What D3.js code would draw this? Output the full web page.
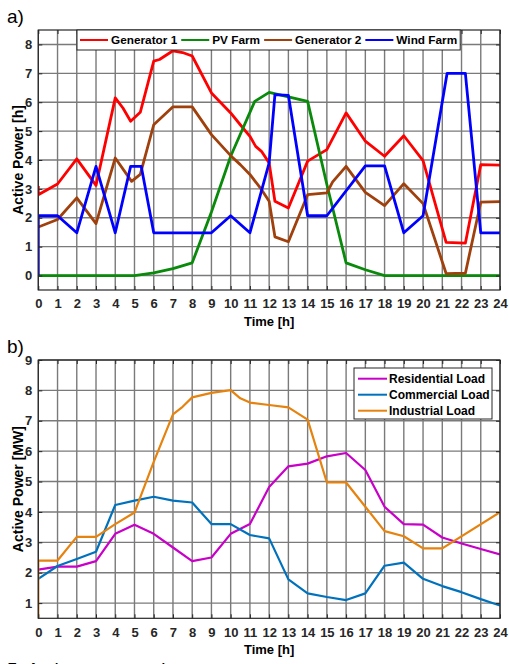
<!DOCTYPE html>
<html>
<head>
<meta charset="utf-8">
<script src="https://cdn.jsdelivr.net/npm/d3@7"></script>
<style>
  body { margin: 0; background: #fff; }
  text { font-family: Arial, "Liberation Sans", sans-serif; }
</style>
</head>
<body>
<div id="chart"></div>
<script>
// ---------------- data ----------------
var hourTicks = d3.range(0, 25);
var genTicks = [0, 1, 2, 3, 4, 5, 6, 7, 8];
var loadTicks = [1, 2, 3, 4, 5, 6, 7, 8, 9];

// a) generation
var gen1T = [0, 0, 1, 2, 3, 4, 4.4, 4.8, 5.3, 6, 6.3, 7, 7.5, 8, 9, 10, 10.5, 11, 11.3, 11.6, 12, 12.3, 13, 14, 15, 16, 17, 18, 19, 20, 21.2, 22.2, 23, 24];
var gen1P = [3.1, 2.8, 3.17, 4.04, 3.12, 6.15, 5.8, 5.34, 5.65, 7.42, 7.48, 7.78, 7.72, 7.6, 6.32, 5.63, 5.22, 4.82, 4.47, 4.3, 3.9, 2.57, 2.34, 3.96, 4.36, 5.63, 4.65, 4.13, 4.84, 3.98, 1.15, 1.12, 3.84, 3.82];

var pvT = [0, 5, 6, 7, 8, 9, 10, 11.25, 12, 14, 15, 16, 17, 18, 24];
var pvP = [0, 0, 0.09, 0.24, 0.44, 2.2, 4.13, 6.03, 6.34, 6.03, 3.15, 0.44, 0.2, 0, 0];

var gen2T = [0, 1, 2, 3, 4, 4.85, 5.3, 6, 7, 8, 9, 10, 10.5, 11, 11.6, 12, 12.3, 13, 14, 15, 15.3, 16, 17, 18, 19, 20, 21.2, 22.2, 23, 24];
var gen2P = [1.68, 1.94, 2.69, 1.8, 4.07, 3.26, 3.5, 5.22, 5.84, 5.84, 4.88, 4.15, 3.84, 3.5, 2.98, 2.57, 1.34, 1.17, 2.8, 2.86, 3.24, 3.78, 2.88, 2.42, 3.18, 2.49, 0.07, 0.08, 2.54, 2.56];

var windT = [0, 0, 1, 2, 3, 4, 4.8, 5.35, 6, 9, 10, 11, 12, 12.3, 13, 14, 15, 17, 18, 19, 20, 21.25, 22.2, 23, 24];
var windP = [0, 2.07, 2.07, 1.48, 3.78, 1.48, 3.78, 3.78, 1.48, 1.48, 2.07, 1.48, 3.9, 6.26, 6.24, 2.07, 2.07, 3.8, 3.8, 1.48, 2.07, 7.0, 7.0, 1.48, 1.48];

// b) loads
var resT = d3.range(0, 25);
var resP = [2.1, 2.2, 2.2, 2.38, 3.28, 3.58, 3.28, 2.83, 2.38, 2.5, 3.28, 3.6, 4.82, 5.5, 5.59, 5.83, 5.94, 5.38, 4.17, 3.6, 3.58, 3.16, 2.96, 2.78, 2.6];

var comT = d3.range(0, 25);
var comP = [1.8, 2.22, 2.45, 2.69, 4.23, 4.37, 4.5, 4.37, 4.31, 3.6, 3.6, 3.24, 3.13, 1.78, 1.32, 1.2, 1.1, 1.32, 2.23, 2.33, 1.8, 1.56, 1.36, 1.13, 0.92];

var indT = [0, 0, 1, 2, 3, 4, 5, 6, 7, 7.5, 8, 9, 10, 10.5, 11, 12, 13, 14, 15, 16, 17, 18, 19, 20, 21, 24];
var indP = [0, 2.4, 2.4, 3.18, 3.18, 3.6, 3.98, 5.65, 7.21, 7.46, 7.77, 7.92, 8.01, 7.74, 7.6, 7.52, 7.44, 7.04, 4.97, 4.97, 4.17, 3.37, 3.2, 2.8, 2.8, 3.99];

// ---------------- drawing ----------------
var svg = d3.select("#chart").append("svg")
  .attr("width", 509)
  .attr("height", 664);

svg.append("rect").attr("width", 509).attr("height", 664).attr("fill", "#fff");

var left = 38.3, right = 500;

function zip(t, p) {
  return t.map(function(d, i) { return [d, p[i]]; });
}

function drawPanel(cfg) {
  var x = d3.scaleLinear().domain([0, 24]).range([left, right]);
  var y = d3.scaleLinear().domain(cfg.yDomain).range([cfg.bottom, cfg.top]);
  var g = svg.append("g");

  // grid
  g.append("g").selectAll("line").data(hourTicks).enter().append("line")
    .attr("x1", function(d) { return x(d); }).attr("x2", function(d) { return x(d); })
    .attr("y1", cfg.top).attr("y2", cfg.bottom)
    .attr("stroke", "#7a7a7a").attr("stroke-width", 1.4);
  g.append("g").selectAll("line").data(cfg.yTicks).enter().append("line")
    .attr("x1", left).attr("x2", right)
    .attr("y1", function(d) { return y(d); }).attr("y2", function(d) { return y(d); })
    .attr("stroke", "#7a7a7a").attr("stroke-width", 1.4);

  // clip
  svg.append("clipPath").attr("id", cfg.id + "clip")
    .append("rect").attr("x", left).attr("y", cfg.top)
    .attr("width", right - left).attr("height", cfg.bottom - cfg.top);

  var line = d3.line().x(function(d) { return x(d[0]); }).y(function(d) { return y(d[1]); });

  var lines = g.append("g").attr("clip-path", "url(#" + cfg.id + "clip)");
  cfg.series.forEach(function(s) {
    lines.append("path")
      .attr("d", line(zip(s.t, s.p)))
      .attr("fill", "none")
      .attr("stroke", s.color)
      .attr("stroke-width", cfg.lineWidth)
      .attr("stroke-linejoin", "round");
  });

  // box
  g.append("rect").attr("x", left).attr("y", cfg.top)
    .attr("width", right - left).attr("height", cfg.bottom - cfg.top)
    .attr("fill", "none").attr("stroke", "#262626").attr("stroke-width", 1.2);

  // inward ticks
  g.append("g").attr("transform", "translate(0," + cfg.bottom + ")")
    .call(d3.axisBottom(x).tickValues(hourTicks).tickSize(-4).tickFormat(""))
    .call(function(a) { a.select(".domain").remove(); a.selectAll("line").attr("stroke", "#262626"); });
  g.append("g").attr("transform", "translate(0," + cfg.top + ")")
    .call(d3.axisTop(x).tickValues(hourTicks).tickSize(-4).tickFormat(""))
    .call(function(a) { a.select(".domain").remove(); a.selectAll("line").attr("stroke", "#262626"); });
  g.append("g").attr("transform", "translate(" + left + ",0)")
    .call(d3.axisLeft(y).tickValues(cfg.yTicks).tickSize(-4).tickFormat(""))
    .call(function(a) { a.select(".domain").remove(); a.selectAll("line").attr("stroke", "#262626"); });
  g.append("g").attr("transform", "translate(" + right + ",0)")
    .call(d3.axisRight(y).tickValues(cfg.yTicks).tickSize(-4).tickFormat(""))
    .call(function(a) { a.select(".domain").remove(); a.selectAll("line").attr("stroke", "#262626"); });

  // tick labels
  g.append("g").attr("transform", "translate(0," + cfg.bottom + ")")
    .call(d3.axisBottom(x).tickValues(hourTicks).tickSize(0).tickPadding(9).tickFormat(d3.format("d")))
    .call(function(a) {
      a.select(".domain").remove();
      a.selectAll("text").attr("font-size", 13).attr("font-weight", "bold").attr("fill", "#262626")
        .style("font-family", "Arial, 'Liberation Sans', sans-serif");
    });
  g.append("g").attr("transform", "translate(" + left + ",0)")
    .call(d3.axisLeft(y).tickValues(cfg.yTicks).tickSize(0).tickPadding(6).tickFormat(d3.format("d")))
    .call(function(a) {
      a.select(".domain").remove();
      a.selectAll("text").attr("font-size", 13).attr("font-weight", "bold").attr("fill", "#262626")
        .style("font-family", "Arial, 'Liberation Sans', sans-serif");
    });

  // axis titles
  g.append("text").attr("x", (left + right) / 2).attr("y", cfg.bottom + 36)
    .attr("text-anchor", "middle").attr("font-size", 13).attr("font-weight", "bold")
    .text("Time [h]");
  g.append("text")
    .attr("transform", "translate(18," + (cfg.top + cfg.bottom) / 2 + ") rotate(-90)")
    .attr("text-anchor", "middle").attr("dy", "0.35em")
    .attr("font-size", 14).attr("font-weight", "bold")
    .text(cfg.yLabel);

  // panel label
  g.append("text").attr("x", 7).attr("y", cfg.top - 7)
    .attr("font-size", 19).text(cfg.label);

  return g;
}

// ---- panel a ----
var seriesA = [
  { name: "Generator 1", t: gen1T, p: gen1P, color: "#ff0000" },
  { name: "PV Farm", t: pvT, p: pvP, color: "#0a8a0a" },
  { name: "Generator 2", t: gen2T, p: gen2P, color: "#a0400c" },
  { name: "Wind Farm", t: windT, p: windP, color: "#0000ff" }
];
var gA = drawPanel({ id: "a", top: 30, bottom: 290, yDomain: [-0.5, 8.5], yTicks: genTicks,
  series: seriesA, lineWidth: 2.8, yLabel: "Active Power [h]", label: "a)" });

// horizontal legend
var legA = gA.append("g");
var legBox = legA.append("rect").attr("x", 77).attr("y", 30).attr("height", 20)
  .attr("fill", "#fff").attr("stroke", "#262626").attr("stroke-width", 1);
var lx = 80;
seriesA.forEach(function(s) {
  legA.append("line").attr("x1", lx).attr("x2", lx + 28).attr("y1", 40).attr("y2", 40)
    .attr("stroke", s.color).attr("stroke-width", 2);
  var t = legA.append("text").attr("x", lx + 31).attr("y", 40).attr("dy", "0.35em")
    .attr("font-size", 11.8).attr("font-weight", "bold").text(s.name);
  lx = lx + 31 + t.node().getComputedTextLength() + 4;
});
legBox.attr("width", lx - 1 - 77);

// ---- panel b ----
var seriesB = [
  { name: "Residential Load", t: resT, p: resP, color: "#c800c8" },
  { name: "Commercial Load", t: comT, p: comP, color: "#0072bd" },
  { name: "Industrial Load", t: indT, p: indP, color: "#e6820e" }
];
var gB = drawPanel({ id: "b", top: 360, bottom: 618.3, yDomain: [0.5, 9], yTicks: loadTicks,
  series: seriesB, lineWidth: 2.2, yLabel: "Active Power [MW]", label: "b)" });

var legB = gB.append("g");
legB.append("rect").attr("x", 354).attr("y", 368).attr("width", 138).attr("height", 51)
  .attr("fill", "#fff").attr("stroke", "#262626").attr("stroke-width", 1);
seriesB.forEach(function(s, i) {
  var ly = 378.7 + i * 16;
  legB.append("line").attr("x1", 358).attr("x2", 387).attr("y1", ly).attr("y2", ly)
    .attr("stroke", s.color).attr("stroke-width", 2);
  legB.append("text").attr("x", 389).attr("y", ly).attr("dy", "0.35em")
    .attr("font-size", 12).attr("font-weight", "bold").text(s.name);
});

// caption cut at the bottom edge, as in the source figure
svg.append("text").attr("x", 7).attr("y", 676).attr("font-size", 19)
  .text("5. Active power using p");
</script>
</body>
</html>
